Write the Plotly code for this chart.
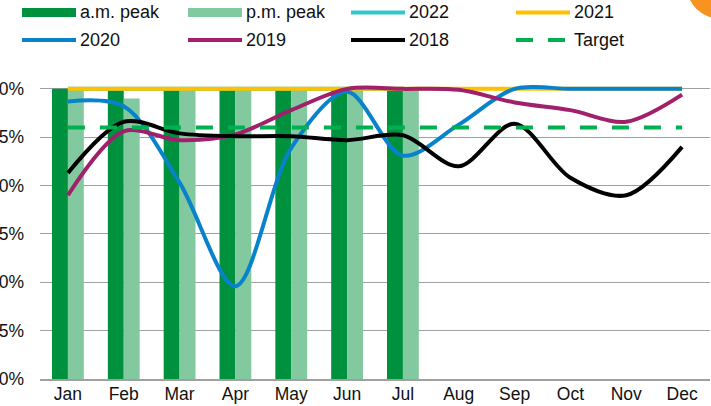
import plotly.graph_objects as go

# Monthly peak punctuality, percent
months = ["Jan", "Feb", "Mar", "Apr", "May", "Jun", "Jul", "Aug", "Sep", "Oct", "Nov", "Dec"]
am_peak = [100, 100, 100, 100, 100, 100, 100]
pm_peak = [100, 99.0, 100, 100, 100, 100, 100]
y2022 = [100, 100, 100, 100, 100, 100, 100]
y2021 = [100, 100, 100, 100, 100, 100, 100, 100, 100, 100, 100, 100]
y2020 = [98.7, 98.2, 90.3, 79.6, 93.9, 99.7, 93.1, 96.3, 100, 100, 100, 100]
y2019 = [89.0, 95.6, 94.7, 95.3, 97.8, 100, 100, 99.9, 98.6, 97.8, 96.6, 99.4]
y2018 = [91.3, 96.6, 95.4, 95.1, 95.1, 94.7, 95.2, 92.0, 96.4, 90.8, 89.0, 94.0]
target = [96] * 12
y_ticks = [70, 75, 80, 85, 90, 95, 100]
y_tick_text = [f"{v}%" for v in y_ticks]

AM_GREEN = "#00913F"
PM_GREEN = "#83C99F"
COLORS = {"2022": "#33C7CC", "2021": "#FFC000", "2020": "#0883CB",
          "2019": "#A1206B", "2018": "#000000", "Target": "#00B050"}

W, H = 711, 406
ML, MR, MT, MB = 40, 1, 85, 27
PW, PH = W - ML - MR, H - MT - MB


def px_x(px):
    return (px - ML) / PW


def px_y(py):
    return (H - MB - py) / PH


fig = go.Figure()
fig.add_bar(x=months[:len(am_peak)], y=am_peak, name="a.m. peak",
            marker=dict(color=AM_GREEN, line=dict(width=0)))
fig.add_bar(x=months[:len(pm_peak)], y=pm_peak, name="p.m. peak",
            marker=dict(color=PM_GREEN, line=dict(width=0)))

for name, vals in [("2022", y2022), ("2021", y2021), ("2020", y2020),
                   ("2019", y2019), ("2018", y2018)]:
    fig.add_scatter(x=months[:len(vals)], y=vals, name=name, mode="lines",
                    line=dict(color=COLORS[name], width=4, shape="spline", smoothing=0.9))

fig.add_scatter(x=months, y=target, name="Target", mode="lines",
                line=dict(color=COLORS["Target"], width=4, dash="17px,15px"))

# Legend drawn as a two-row grid of swatches and labels
FONT = "Liberation Sans, Arial, sans-serif"
legend_rows = [
    [("a.m. peak", "bar", AM_GREEN), ("p.m. peak", "bar", PM_GREEN),
     ("2022", "line", COLORS["2022"]), ("2021", "line", COLORS["2021"])],
    [("2020", "line", COLORS["2020"]), ("2019", "line", COLORS["2019"]),
     ("2018", "line", COLORS["2018"]), ("Target", "dash", COLORS["Target"])],
]
col_x = [22, 188, 351, 516]
row_y = [12.5, 40]
sym_len = 54
shapes = []
annotations = []
for r, row in enumerate(legend_rows):
    for c, (label, kind, color) in enumerate(row):
        x0 = col_x[c]
        yc = row_y[r]
        if kind == "bar":
            shapes.append(dict(type="rect", xref="paper", yref="paper",
                               x0=px_x(x0), x1=px_x(x0 + sym_len),
                               y0=px_y(yc - 4.5), y1=px_y(yc + 4.5),
                               fillcolor=color, line=dict(width=0)))
        else:
            shapes.append(dict(type="line", xref="paper", yref="paper",
                               x0=px_x(x0), x1=px_x(x0 + sym_len),
                               y0=px_y(yc), y1=px_y(yc),
                               line=dict(color=color, width=4,
                                         dash="17px,15px" if kind == "dash" else "solid")))
        annotations.append(dict(text=label, xref="paper", yref="paper",
                                x=px_x(x0 + sym_len + 2), y=px_y(yc),
                                xanchor="left", yanchor="middle", showarrow=False,
                                font=dict(family=FONT, size=18, color="#111111")))

# Orange corner mark
cx, cy, rad = 720, -15, 33.5
shapes.append(dict(type="circle", xref="paper", yref="paper",
                   x0=px_x(cx - rad), x1=px_x(cx + rad),
                   y0=px_y(cy + rad), y1=px_y(cy - rad),
                   fillcolor="#F7931E", line=dict(width=0), layer="above"))

fig.update_layout(
    width=W, height=H,
    margin=dict(l=ML, r=MR, t=MT, b=MB, pad=0, autoexpand=False),
    paper_bgcolor="white", plot_bgcolor="white",
    barmode="group", bargap=0.43, bargroupgap=0,
    showlegend=False,
    shapes=shapes, annotations=annotations,
    font=dict(family=FONT, size=17.5, color="#111111"),
)
fig.update_xaxes(type="category", range=[-0.5, 11.5], showgrid=False,
                 showline=True, linecolor="#A0A0A0", linewidth=1.5,
                 ticks="", tickfont=dict(size=17.5), ticklabelstandoff=-2,
                 automargin=False, fixedrange=True)
fig.update_yaxes(range=[70, 100.4], tickvals=y_ticks, ticktext=y_tick_text,
                 showgrid=True, gridcolor="#A0A0A0", gridwidth=1,
                 zeroline=False, showline=False, ticks="",
                 ticklabelstandoff=15, tickfont=dict(size=17.5),
                 automargin=False, fixedrange=True)

fig.write_html("out.html")
